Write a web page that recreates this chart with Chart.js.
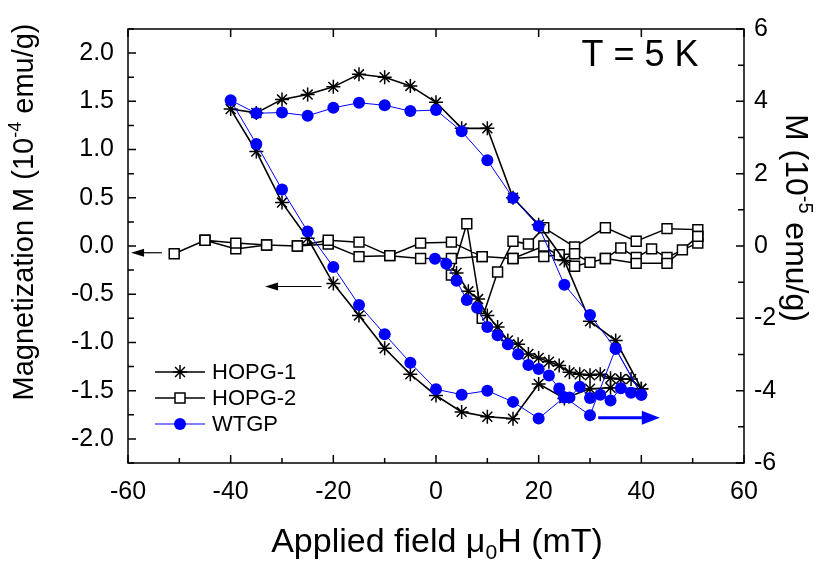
<!DOCTYPE html>
<html>
<head>
<meta charset="utf-8">
<script src="https://cdn.jsdelivr.net/npm/chart.js@4.4.0/dist/chart.umd.min.js"></script>
<style>
    html, body { margin: 0; padding: 0; background: #fff; }
    #wrap { width: 828px; height: 567px; }
</style>
</head>
<body>
<div id="wrap"><canvas id="loopChart" width="828" height="567"></canvas></div>
<script>
const FONT = '"Liberation Sans", Arial, Helvetica, sans-serif';

// HOPG-1, left axis (10^-4 emu/g): virgin curve, then down-sweep, then up-sweep
const hopg1Field = [4, 6.3, 8.2, 10, 12, 14, 16, 18, 20, 22, 24, 26, 28, 30, 32, 34, 36, 38, 40,
    34, 30, 25, 20, 15, 10, 5, 0, -5, -10, -15, -20, -25, -30, -35, -40,
    -35, -30, -25, -20, -15, -10, -5, 0, 5, 10, 15, 20, 25, 30, 35, 40];
const hopg1M = [-0.28, -0.47, -0.55, -0.72, -0.84, -0.98, -1.02, -1.12, -1.16, -1.2, -1.24, -1.31, -1.33, -1.34, -1.33, -1.37, -1.38, -1.38, -1.48,
    -1.47, -1.48, -1.58, -1.43, -1.79, -1.77, -1.72, -1.55, -1.33, -1.06, -0.72, -0.39, 0.08, 0.45, 0.98, 1.42,
    1.38, 1.52, 1.57, 1.65, 1.78, 1.75, 1.66, 1.49, 1.22, 1.22, 0.5, 0.22, -0.15, -0.78, -0.98, -1.48];

// HOPG-2, left axis
const hopg2Field = [3, 6, 9, 12, 15, 18, 21, 27, 33, 39, 45, 51, 51, 51,
    48, 45, 42, 39, 36, 33, 30, 27, 24, 21, 15, 9, 3, -3, -9, -15, -21, -27, -33, -39, -45, -51,
    -45, -39, -33, -27, -21, -15, -9, -3, 3, 9, 15, 21, 27, 33, 39, 45, 51];
const hopg2M = [-0.30, 0.23, -0.75, -0.27, 0.05, 0.02, 0.19, -0.01, 0.19, 0.05, 0.18, 0.17, 0.10, 0.03,
    -0.04, -0.12, -0.03, -0.12, -0.02, -0.13, -0.17, -0.08, -0.09, -0.11, -0.13, -0.11, -0.13, -0.13, -0.10, -0.11, 0.02, 0.0, 0.01, -0.03, 0.06, -0.08,
    0.06, 0.03, 0.01, 0.0, 0.06, 0.04, -0.10, 0.03, 0.04, -0.11, -0.13, 0.0, -0.21, -0.13, -0.18, -0.18, 0.10];

// WTGP, right axis (10^-5 emu/g)
const wtgpField = [-0.2, 2, 4, 6, 8, 10, 12, 14, 16, 18, 20, 22, 24, 25, 26, 28, 30, 32, 34, 36, 38, 40,
    35, 30, 25, 20, 15, 10, 5, 0, -5, -10, -15, -20, -25, -30, -35, -40,
    -35, -30, -25, -20, -15, -10, -5, 0, 5, 10, 15, 20, 25, 30, 35, 40];
const wtgpM = [-0.35, -0.49, -0.96, -1.49, -1.71, -2.24, -2.47, -2.72, -2.99, -3.29, -3.4, -3.58, -3.94, -4.19, -4.19, -3.89, -4.2, -4.11, -4.27, -3.93, -4.06, -4.11,
    -2.84, -4.68, -4.18, -4.77, -4.31, -4.0, -4.11, -3.96, -3.23, -2.44, -1.63, -0.58, 0.4, 1.56, 2.82, 4.03,
    3.67, 3.69, 3.6, 3.82, 3.96, 3.89, 3.73, 3.76, 3.17, 2.37, 1.33, 0.55, -1.07, -1.91, -2.84, -4.11];

const xTicks = [-60, -40, -20, 0, 20, 40, 60];
const leftTicks = [-2.0, -1.5, -1.0, -0.5, 0.0, 0.5, 1.0, 1.5, 2.0];
const rightTicks = [-6, -4, -2, 0, 2, 4, 6];

const legendItems = [
    { label: "HOPG-1", style: "star", color: "#000" },
    { label: "HOPG-2", style: "rect", color: "#000" },
    { label: "WTGP", style: "circle", color: "#0000ff" },
];

const toPoints = (xs, ys) => xs.map((x, i) => ({ x: x, y: ys[i] }));

// text with super/subscript pieces, centred on (x, y)
function drawRich(ctx, parts, x, y, size) {
    const widths = parts.map(p => {
        ctx.font = (p.pos ? size * 0.62 : size) + "px " + FONT;
        return ctx.measureText(p.t).width;
    });
    let cx = x - widths.reduce((a, b) => a + b, 0) / 2;
    ctx.textBaseline = "alphabetic";
    ctx.textAlign = "left";
    parts.forEach((p, i) => {
        ctx.font = (p.pos ? size * 0.62 : size) + "px " + FONT;
        let dy = 0;
        if (p.pos === "sup") dy = -size * 0.42;
        if (p.pos === "sub") dy = size * 0.22;
        ctx.fillText(p.t, cx, y + dy);
        cx += widths[i];
    });
}

function drawMarker(ctx, style, x, y, color) {
    ctx.save();
    ctx.strokeStyle = color;
    ctx.fillStyle = color;
    ctx.lineWidth = 1.5;
    if (style === "star") {
        const r = 7;
        ctx.beginPath();
        for (let k = 0; k < 4; k++) {
            const a = k * Math.PI / 4;
            ctx.moveTo(x - r * Math.cos(a), y - r * Math.sin(a));
            ctx.lineTo(x + r * Math.cos(a), y + r * Math.sin(a));
        }
        ctx.stroke();
    } else if (style === "rect") {
        ctx.fillStyle = "#fff";
        ctx.fillRect(x - 5, y - 5, 10, 10);
        ctx.strokeRect(x - 5, y - 5, 10, 10);
    } else {
        ctx.beginPath();
        ctx.arc(x, y, 6, 0, Math.PI * 2);
        ctx.fill();
    }
    ctx.restore();
}

function arrow(ctx, x1, y, x2, color, width, headLen, headHalf) {
    const dir = Math.sign(x2 - x1);
    ctx.save();
    ctx.strokeStyle = color;
    ctx.fillStyle = color;
    ctx.lineWidth = width;
    ctx.beginPath();
    ctx.moveTo(x1, y);
    ctx.lineTo(x2 - dir * headLen * 0.8, y);
    ctx.stroke();
    ctx.beginPath();
    ctx.moveTo(x2, y);
    ctx.lineTo(x2 - dir * headLen, y - headHalf);
    ctx.lineTo(x2 - dir * headLen, y + headHalf);
    ctx.closePath();
    ctx.fill();
    ctx.restore();
}

const framePlugin = {
    id: "frame",
    afterDraw(chart) {
        const { ctx, chartArea: a, scales } = chart;
        const sx = scales.x, yl = scales.y, yr = scales.y2;
        ctx.save();
        ctx.strokeStyle = "#000";
        ctx.lineWidth = 1.5;
        ctx.strokeRect(a.left, a.top, a.right - a.left, a.bottom - a.top);

        // inward ticks
        ctx.beginPath();
        for (let v = -60; v <= 60; v += 10) {
            const px = sx.getPixelForValue(v);
            const major = v % 20 === 0;
            ctx.moveTo(px, a.bottom);
            ctx.lineTo(px, a.bottom - (major ? 8 : 5));
            if (major) {
                ctx.moveTo(px, a.top);
                ctx.lineTo(px, a.top + 8);
            }
        }
        for (let i = -9; i <= 9; i++) {
            const py = yl.getPixelForValue(i * 0.25);
            ctx.moveTo(a.left, py);
            ctx.lineTo(a.left + (i % 2 === 0 ? 8 : 6), py);
        }
        for (let v = -6; v <= 6; v++) {
            const py = yr.getPixelForValue(v);
            ctx.moveTo(a.right, py);
            ctx.lineTo(a.right - (v % 2 === 0 ? 8 : 6), py);
        }
        ctx.stroke();

        // axis titles
        ctx.fillStyle = "#000";
        drawRich(ctx, [{ t: "Applied field \u03bc" }, { t: "0", pos: "sub" }, { t: "H (mT)" }], 437, 552, 34);

        ctx.save();
        ctx.translate(33, 212);
        ctx.rotate(-Math.PI / 2);
        drawRich(ctx, [{ t: "Magnetization M (10" }, { t: "-4", pos: "sup" }, { t: " emu/g)" }], 0, 0, 29);
        ctx.restore();

        ctx.save();
        ctx.translate(786, 218);
        ctx.rotate(Math.PI / 2);
        drawRich(ctx, [{ t: "M (10" }, { t: "-5", pos: "sup" }, { t: " emu/g)" }], 0, 0, 32);
        ctx.restore();

        // temperature label
        ctx.font = "36px " + FONT;
        ctx.textAlign = "center";
        ctx.textBaseline = "middle";
        ctx.fillText("T = 5 K", 640, 56);

        // legend
        legendItems.forEach((item, i) => {
            const y = 372 + i * 26;
            ctx.save();
            ctx.strokeStyle = item.color;
            ctx.lineWidth = item.style === "circle" ? 1 : 1.5;
            ctx.beginPath();
            ctx.moveTo(155, y);
            ctx.lineTo(205, y);
            ctx.stroke();
            ctx.restore();
            drawMarker(ctx, item.style, 180, y, item.color);
            ctx.fillStyle = "#000";
            ctx.font = "22px " + FONT;
            ctx.textAlign = "left";
            ctx.textBaseline = "middle";
            ctx.fillText(item.label, 212, y + 1);
        });

        // arrows pointing at the axis each curve belongs to
        arrow(ctx, sx.getPixelForValue(-53.4), yl.getPixelForValue(-0.07), sx.getPixelForValue(-59.4), "#000", 1.2, 13, 4);
        arrow(ctx, sx.getPixelForValue(-22.3), yl.getPixelForValue(-0.42), sx.getPixelForValue(-33.3), "#000", 1.2, 13, 4);
        arrow(ctx, sx.getPixelForValue(31.6), yr.getPixelForValue(-4.75), sx.getPixelForValue(43.6), "#0000ff", 3, 18, 7);
        ctx.restore();
    },
};

new Chart(document.getElementById("loopChart").getContext("2d"), {
    type: "line",
    data: {
        datasets: [
            {
                label: "WTGP",
                data: toPoints(wtgpField, wtgpM),
                yAxisID: "y2",
                borderColor: "#0000ff",
                borderWidth: 1,
                pointStyle: "circle",
                pointRadius: 6,
                pointBackgroundColor: "#0000ff",
                pointBorderColor: "#0000ff",
                pointBorderWidth: 0,
                tension: 0,
                order: 0,
            },
            {
                label: "HOPG-1",
                data: toPoints(hopg1Field, hopg1M),
                yAxisID: "y",
                borderColor: "#000",
                borderWidth: 1.6,
                pointStyle: "star",
                pointRadius: 7,
                pointBorderColor: "#000",
                pointBorderWidth: 1.5,
                tension: 0,
                order: 1,
            },
            {
                label: "HOPG-2",
                data: toPoints(hopg2Field, hopg2M),
                yAxisID: "y",
                borderColor: "#000",
                borderWidth: 1.5,
                pointStyle: "rect",
                pointRadius: 7,
                pointBackgroundColor: "#fff",
                pointBorderColor: "#000",
                pointBorderWidth: 1.5,
                tension: 0,
                order: 2,
            },
        ],
    },
    options: {
        responsive: false,
        animation: false,
        events: [],
        devicePixelRatio: 1,
        layout: { padding: { top: 12, left: 0, right: 0, bottom: 0 } },
        plugins: {
            legend: { display: false },
            tooltip: { enabled: false },
        },
        scales: {
            x: {
                type: "linear",
                min: -60,
                max: 60,
                afterBuildTicks: s => { s.ticks = xTicks.map(v => ({ value: v })); },
                afterFit: s => { s.height = 104; },
                grid: { display: false, drawTicks: false },
                border: { display: false },
                ticks: { color: "#000", padding: 14, font: { family: FONT, size: 25 } },
            },
            y: {
                position: "left",
                min: -2.25,
                max: 2.25,
                afterBuildTicks: s => { s.ticks = leftTicks.map(v => ({ value: v })); },
                afterFit: s => { s.width = 128; },
                grid: { display: false, drawTicks: false },
                border: { display: false },
                ticks: { color: "#000", padding: 14, font: { family: FONT, size: 25 }, callback: v => v.toFixed(1) },
            },
            y2: {
                position: "right",
                min: -6,
                max: 6,
                afterBuildTicks: s => { s.ticks = rightTicks.map(v => ({ value: v })); },
                afterFit: s => { s.width = 84; },
                grid: { display: false, drawTicks: false },
                border: { display: false },
                ticks: { color: "#000", padding: 10, font: { family: FONT, size: 25 } },
            },
        },
    },
    plugins: [framePlugin],
});
</script>
</body>
</html>
